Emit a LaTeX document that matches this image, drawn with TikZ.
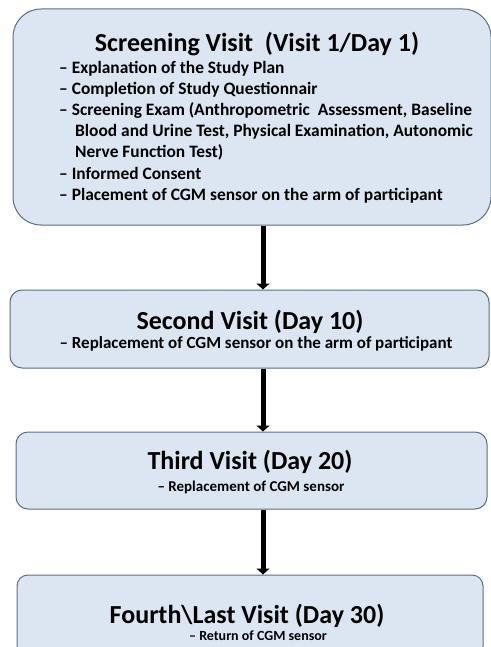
\documentclass[tikz,border=0pt]{standalone}
\usepackage{fontspec}
\setmainfont{Carlito}
\usetikzlibrary{arrows.meta}
\definecolor{boxfill}{HTML}{DCE6F2}
\definecolor{boxline}{HTML}{5A6E85}
\tikzset{
  visitbox/.style={draw=boxline, line width=1pt, fill=boxfill, rectangle, inner sep=0pt},
  titletext/.style={font=\bfseries\fontsize{26}{30}\selectfont, inner sep=0pt, anchor=base},
  bodytext/.style={font=\bfseries\fontsize{17.4}{21}\selectfont, inner sep=0pt, anchor=base west},
  subtext/.style={font=\bfseries\fontsize{#1}{#1}\selectfont, inner sep=0pt, anchor=base},
  flowarrow/.style={line width=5pt, -{Triangle[width=13pt,length=6pt]}}
}
\begin{document}
\begin{tikzpicture}[x=1pt,y=-1pt]
\useasboundingbox (0,0) rectangle (490,647);
\node[visitbox, rounded corners=28pt, minimum width=478pt, minimum height=216pt] (b1) at (252,117) {};
\node[visitbox, rounded corners=12pt, minimum width=479pt, minimum height=78pt] (b2) at (249.5,329) {};
\node[visitbox, rounded corners=12pt, minimum width=471pt, minimum height=77pt] (b3) at (251.5,470.5) {};
\node[visitbox, rounded corners=11pt, minimum width=466pt, minimum height=82pt] (b4) at (250,616) {};

\node[titletext] (t1) at (257,52) {Screening Visit\ \ (Visit 1/Day 1)};
\node[bodytext] (l1) at (59,74) {– Explanation of the Study Plan};
\node[bodytext] (l2) at (59,95) {– Completion of Study Questionnair};
\node[bodytext] (l3) at (59,116) {– Screening Exam (Anthropometric\ \ Assessment, Baseline};
\node[bodytext] (l4) at (75,137) {Blood and Urine Test, Physical Examination, Autonomic};
\node[bodytext] (l5) at (75,158) {Nerve Function Test)};
\node[bodytext] (l6) at (59,179) {– Informed Consent};
\node[bodytext] (l7) at (59,200) {– Placement of CGM sensor on the arm of participant};

\node[titletext] (t2) at (250,329) {Second Visit (Day 10)};
\node[subtext=17] (s2) at (256,348) {– Replacement of CGM sensor on the arm of participant};

\node[titletext] (t3) at (250,469) {Third Visit (Day 20)};
\node[subtext=15] (s3) at (251,491) {– Replacement of CGM sensor};

\node[titletext] (t4) at (247,623) {Fourth\textbackslash Last Visit (Day 30)};
\node[subtext=14] (s4) at (258,640) {– Return of CGM sensor};

\coordinate (ax) at (263,0);
\draw[flowarrow] (b1.south -| ax) -- (b2.north -| ax);
\draw[flowarrow] (b2.south -| ax) -- (b3.north -| ax);
\draw[flowarrow] (b3.south -| ax) -- (b4.north -| ax);
\end{tikzpicture}
\end{document}
